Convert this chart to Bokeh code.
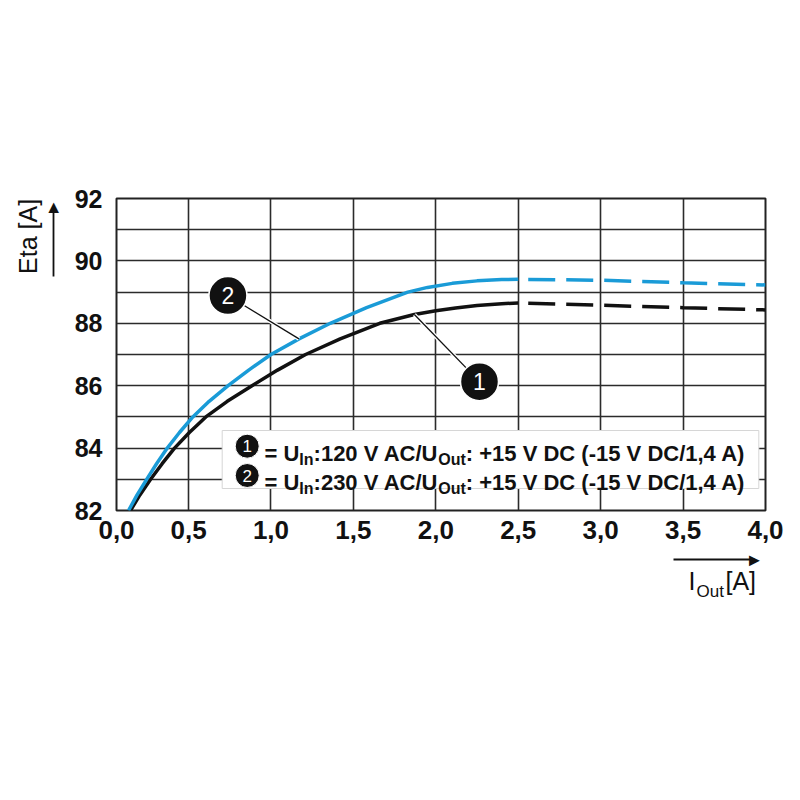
from bokeh.plotting import figure
from bokeh.models import (FixedTicker, Label, Range1d, LinearAxis,
                          CustomJSTickFormatter)
from bokeh.embed import file_html
from bokeh.resources import INLINE

# ---------------- data ----------------
x_ticks = [0.063, 0.5, 1.0, 1.5, 2.0, 2.5, 3.0, 3.5, 4.0]
x_tick_labels = ["0,0", "0,5", "1,0", "1,5", "2,0", "2,5", "3,0", "3,5", "4,0"]
y_ticks = [82, 84, 86, 88, 90, 92]
y_tick_labels = ["82", "84", "86", "88", "90", "92"]
y_grid = [83, 84, 85, 86, 87, 88, 89, 90, 91]

# series 1: U_In 120 V AC (black)
s1_x = [0.148, 0.205, 0.27, 0.34, 0.415, 0.505, 0.605, 0.735, 0.885, 1.04,
        1.21, 1.42, 1.66, 1.87, 2.0, 2.12, 2.25, 2.4, 2.5]
s1_y = [82.0, 82.5, 83.0, 83.5, 84.0, 84.5, 85.0, 85.5, 86.0, 86.5,
        87.0, 87.5, 88.0, 88.28, 88.4, 88.49, 88.57, 88.63, 88.65]
s1_dash_x = [2.5, 3.0, 3.5, 4.0]
s1_dash_y = [88.65, 88.58, 88.5, 88.43]

# series 2: U_In 230 V AC (blue)
s2_x = [0.136, 0.188, 0.246, 0.306, 0.371, 0.445, 0.526, 0.625, 0.74, 0.865,
        1.0, 1.17, 1.36, 1.58, 1.83, 1.95, 2.1, 2.25, 2.4, 2.5]
s2_y = [82.0, 82.5, 83.0, 83.5, 84.0, 84.5, 85.0, 85.5, 86.0, 86.5,
        87.0, 87.5, 88.0, 88.5, 89.0, 89.15, 89.28, 89.36, 89.4, 89.41]
s2_dash_x = [2.5, 3.0, 3.5, 4.0]
s2_dash_y = [89.41, 89.38, 89.3, 89.23]

series_numbers = ["1", "2"]
series_voltages = ["120", "230"]
series_colors = ["#111111", "#1a9bd7"]
# callout bubble positions (data units) and index of curve point they point at
callout_x = [2.265, 0.739]
callout_y = [86.13, 88.89]
callout_target_idx = [13, 11]

XS, XE, YS, YE = x_ticks[0], x_ticks[-1], y_ticks[0], y_ticks[-1]

# pixel geometry of the frame inside the picture
FX0, FX1, FY0, FY1 = 116, 765, 510, 198


def X(px):
    return XS + (px - FX0) * (XE - XS) / (FX1 - FX0)


def Y(py):
    return YS + (FY0 - py) * (YE - YS) / (FY0 - FY1)


FONT = "Liberation Sans"
INK = "#111111"
NB = "\u00a0"

p = figure(width=792, height=792, x_range=Range1d(XS, XE), y_range=Range1d(YS, YE),
           output_backend="svg", toolbar_location=None,
           min_border_left=FX0, min_border_right=792 - FX1,
           min_border_top=FY1, min_border_bottom=792 - FY0)
p.background_fill_color = "white"
p.border_fill_color = "white"
p.outline_line_color = "#222222"
p.outline_line_width = 2

fmt_code = """
let best = 0; let d = Infinity;
for (let i = 0; i < tv.length; i++) {
  const e = Math.abs(tv[i] - tick);
  if (e < d) { d = e; best = i; }
}
return tl[best];
"""
p.xaxis.ticker = FixedTicker(ticks=x_ticks)
p.xaxis.formatter = CustomJSTickFormatter(args=dict(tv=x_ticks, tl=x_tick_labels), code=fmt_code)
p.yaxis.ticker = FixedTicker(ticks=y_ticks)
p.yaxis.formatter = CustomJSTickFormatter(args=dict(tv=y_ticks, tl=y_tick_labels), code=fmt_code)
for ax in (p.xaxis, p.yaxis):
    ax.axis_line_color = None
    ax.major_tick_line_color = None
    ax.minor_tick_line_color = None
    ax.major_tick_out = 0
    ax.major_tick_in = 0
    ax.major_label_text_font = FONT
    ax.major_label_text_font_style = "bold"
    ax.major_label_text_color = INK
    # blank label only used as a spacer between the tick labels and the arrow
    ax.axis_label = NB
    ax.axis_label_text_font = FONT
    ax.axis_label_text_font_size = "8px"
p.yaxis.major_label_text_font_size = "25px"
p.xaxis.major_label_text_font_size = "26px"
p.yaxis.major_label_standoff = 14
p.xaxis.major_label_standoff = 10
p.yaxis.axis_label_standoff = 6
p.xaxis.axis_label_standoff = 6

p.xgrid.ticker = FixedTicker(ticks=x_ticks[1:-1])
p.ygrid.ticker = FixedTicker(ticks=y_grid)
for g in (p.xgrid, p.ygrid):
    g.grid_line_color = "#2b2b2b"
    g.grid_line_width = 1.6


# ---- stacked guide axes used for titles and arrows outside the frame ----
def add_guide(side, lo, hi, label=None, label_size="25px", label_standoff=0,
              tick=None, tick_text="", tick_size="18px", tick_standoff=0, line=False):
    ax = LinearAxis(bounds=(min(lo, hi), max(lo, hi)))
    ax.ticker = FixedTicker(ticks=[] if tick is None else [tick], minor_ticks=[])
    ax.formatter = CustomJSTickFormatter(args=dict(s=tick_text), code="return s;")
    ax.major_tick_line_color = None
    ax.minor_tick_line_color = None
    ax.major_tick_out = 0
    ax.major_tick_in = 0
    ax.axis_line_color = INK if line else None
    ax.axis_line_width = 1.8
    ax.major_label_text_font = FONT
    ax.major_label_text_font_size = tick_size
    ax.major_label_text_color = INK
    ax.major_label_standoff = tick_standoff
    if label is not None:
        ax.axis_label = label
        ax.axis_label_text_font = FONT
        ax.axis_label_text_font_size = label_size
        ax.axis_label_text_font_style = "normal"
        ax.axis_label_text_color = INK
        ax.axis_label_standoff = label_standoff
    p.add_layout(ax, side)
    return ax


# y arrow with title "Eta [A]" (leading no-break spaces move it off the frame centre)
add_guide("left", Y(275.7), Y(206), label=NB * 34 + "Eta [A]", label_size="25px",
          label_standoff=0, tick=Y(206), tick_text="\u25B2", tick_size="18px",
          tick_standoff=-9, line=True)
# x arrow, then title "I_Out [A]"
add_guide("below", X(672.7), X(754), tick=X(754), tick_text="\u25BA",
          tick_size="18px", tick_standoff=-10, line=True)
add_guide("below", X(689.5), X(758.1), label=NB * 81 + "I\u2003\u2009[A]",
          label_size="25px", label_standoff=-6)
add_guide("below", X(697.5), X(724.9), label=NB * 114 + "Out", label_size="17px",
          label_standoff=-16)

# legend box
p.quad(left=[X(221.7)], right=[X(758.3)], top=[Y(430)], bottom=[Y(488)],
       fill_color="white", line_color="#d6d6d6", line_width=1)

# curves
p.line(s1_x, s1_y, line_color=series_colors[0], line_width=3.5, line_join="round")
p.line(s1_dash_x, s1_dash_y, line_color=series_colors[0], line_width=3.5,
       line_dash="27 11", line_dash_offset=28)
p.line(s2_x, s2_y, line_color=series_colors[1], line_width=3.5, line_join="round")
p.line(s2_dash_x, s2_dash_y, line_color=series_colors[1], line_width=3.5,
       line_dash="27 11", line_dash_offset=28)

# callouts
curves = [(s1_x, s1_y), (s2_x, s2_y)]
for i in range(2):
    cx, cy = curves[i]
    tx, ty = cx[callout_target_idx[i]], cy[callout_target_idx[i]]
    p.segment(x0=[callout_x[i]], y0=[callout_y[i]], x1=[tx], y1=[ty],
              line_color="white", line_width=4)
    p.segment(x0=[callout_x[i]], y0=[callout_y[i]], x1=[tx], y1=[ty],
              line_color=INK, line_width=1.3)
p.scatter(x=callout_x, y=callout_y, size=38, fill_color=INK,
          line_color="white", line_width=1.5)
for i in range(2):
    p.add_layout(Label(x=callout_x[i], y=callout_y[i], text=series_numbers[i],
                       text_font=FONT, text_font_size="23px", text_color="white",
                       text_align="center", text_baseline="middle"))

# legend entries
BW = {' ': 278, '=': 584, 'U': 722, 'I': 278, 'n': 611, ':': 333, '0': 556, '1': 556,
      '2': 556, '3': 556, '4': 556, '5': 556, 'V': 667, 'A': 722, 'C': 722, '/': 278,
      'O': 778, 'u': 611, 't': 333, '+': 584, 'D': 722, '(': 333, ')': 333,
      '-': 333, ',': 278}


def tw(s, size):
    return sum(BW[c] for c in s) * size / 1000.0


legend_rows_py = [453, 482]
legend_circle_py = [445.7, 475]
p.scatter(x=[X(246.7)] * 2, y=[Y(v) for v in legend_circle_py], size=24,
          fill_color=INK, line_color="white", line_width=1)
for i in range(2):
    p.add_layout(Label(x=X(246.7), y=Y(legend_circle_py[i]), text=series_numbers[i],
                       text_font=FONT, text_font_size="17px", text_color="white",
                       text_align="center", text_baseline="middle"))
    segs = [("= U", 22, 0), ("In", 16, 5.5),
            (":" + series_voltages[i] + " V AC/U", 22, 0), ("Out", 16, 5.5),
            (": +15 V DC (-15 V DC/1,4 A)", 22, 0)]
    px = 264.0
    for txt, size, dy in segs:
        p.add_layout(Label(x=X(px), y=Y(legend_rows_py[i] + dy), text=txt,
                           text_font=FONT, text_font_size=f"{size}px",
                           text_font_style="bold", text_color=INK,
                           text_align="left", text_baseline="alphabetic"))
        px += tw(txt, size)

open("out.html", "w").write(file_html(p, INLINE))
